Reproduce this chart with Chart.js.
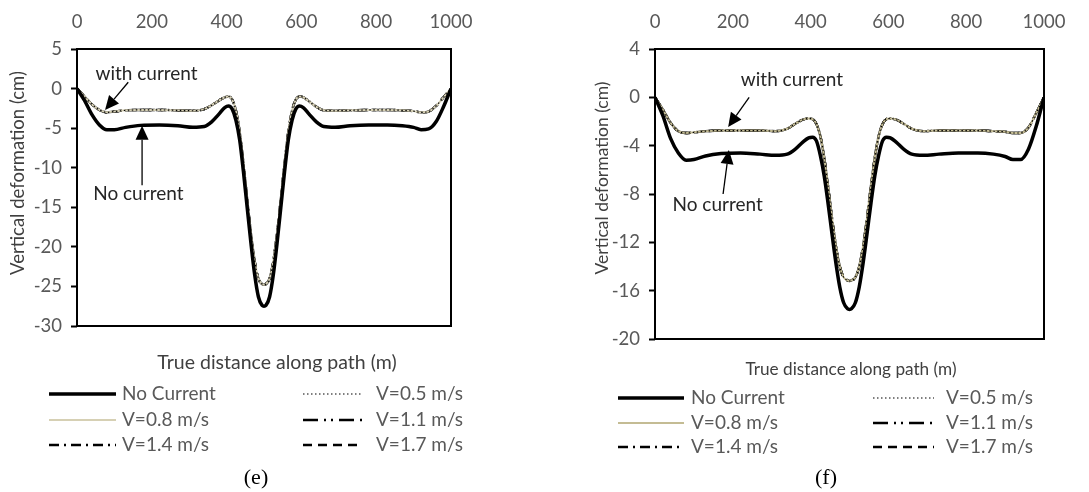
<!DOCTYPE html>
<html>
<head>
<meta charset="utf-8">
<script src="https://cdn.jsdelivr.net/npm/chart.js@4.4.1/dist/chart.umd.min.js"></script>
<style>
html, body { margin: 0; padding: 0; background: #fff; }
#wrap { position: relative; width: 1089px; height: 492px; overflow: hidden; }
.panel { position: absolute; top: 0; }
#pe { left: 0; }
#pf { left: 545px; }
</style>
</head>
<body>
<div id="wrap">
  <div class="panel" id="pe"><canvas id="chartE" width="545" height="492"></canvas></div>
  <div class="panel" id="pf"><canvas id="chartF" width="544" height="492"></canvas></div>
</div>
<script>
// distance along path (m), shared by both panels
const dist = [0, 20, 40, 60, 80, 100, 130, 170, 220, 270, 310, 340, 360, 380, 395,
  405, 415, 425, 435, 445, 455, 465, 475, 485, 495, 500, 505, 515, 525, 535, 545,
  555, 565, 575, 585, 595, 605, 620, 640, 660, 690, 730, 780, 830, 870, 900,
  920, 940, 960, 980, 1000];

// panel (e) vertical deformation (cm)
const noCurrentE = [0, -1.5, -3.3, -4.6, -5.2, -5.2, -4.9, -4.65, -4.6, -4.7,
  -4.9, -4.8, -4.2, -3.2, -2.4, -2.2, -2.6, -4.0, -6.5, -10.5,
  -15.0, -19.5, -23.5, -26.3, -27.4, -27.5, -27.4, -26.3, -23.5, -19.5, -15.0,
  -10.5, -6.5, -4.0, -2.6, -2.2, -2.4, -3.2, -4.2, -4.8, -4.9,
  -4.7, -4.6, -4.6, -4.7, -4.9, -5.2, -5.1, -4.2, -2.3, 0];
// the five current speeds sit on top of each other in the picture
const withCurrentE = [0, -1.0, -2.0, -2.7, -3.0, -2.9, -2.75, -2.7, -2.7, -2.75,
  -2.8, -2.6, -2.1, -1.5, -1.1, -1.0, -1.4, -2.8, -5.5, -9.5,
  -14.0, -18.3, -21.8, -24.0, -24.7, -24.8, -24.7, -24.0, -21.8, -18.3, -14.0,
  -9.5, -5.5, -2.8, -1.4, -1.0, -1.1, -1.6, -2.3, -2.75, -2.8,
  -2.75, -2.7, -2.7, -2.75, -2.85, -3.0, -2.9, -2.2, -1.1, 0];

// panel (f)
const noCurrentF = [0, -1.5, -3.4, -4.6, -5.2, -5.15, -4.85, -4.65, -4.6, -4.7,
  -4.8, -4.7, -4.3, -3.7, -3.35, -3.3, -3.6, -4.8, -6.5, -8.8,
  -11.3, -13.7, -15.7, -17.0, -17.5, -17.55, -17.5, -17.0, -15.7, -13.7, -11.3,
  -8.8, -6.5, -4.8, -3.6, -3.3, -3.35, -3.7, -4.3, -4.7, -4.8,
  -4.7, -4.6, -4.6, -4.7, -4.9, -5.15, -5.15, -4.3, -2.4, 0];
const withCurrentF = [0, -1.0, -2.1, -2.8, -2.95, -2.9, -2.8, -2.75, -2.75, -2.75,
  -2.8, -2.6, -2.2, -1.85, -1.75, -1.8, -2.2, -3.2, -5.0, -7.4,
  -10.0, -12.3, -14.0, -14.9, -15.15, -15.2, -15.15, -14.9, -14.0, -12.3, -10.0,
  -7.4, -5.0, -3.2, -2.2, -1.8, -1.75, -1.85, -2.2, -2.6, -2.8,
  -2.75, -2.75, -2.75, -2.8, -2.85, -2.95, -2.95, -2.5, -1.3, 0];

const seriesNames = ['No Current', 'V=0.5 m/s', 'V=0.8 m/s', 'V=1.1 m/s', 'V=1.4 m/s', 'V=1.7 m/s'];
const xTicksTop = [0, 200, 400, 600, 800, 1000];

const lineStyles = [
  { color: '#000', width: 3.5, dash: [] },
  { color: '#000', width: 1.2, dash: [1.5, 2.5] },
  { color: '#cfc8a8', width: 2, dash: [] },
  { color: '#000', width: 2.4, dash: [15, 6, 2, 5, 2, 6] },
  { color: '#000', width: 2.4, dash: [10, 5, 2, 5] },
  { color: '#000', width: 2.4, dash: [9, 6] }
];

const pts = vals => dist.map((d, i) => ({ x: d, y: vals[i] }));

function datasets(noCur, withCur, tan) {
  return seriesNames.map((name, i) => ({
    label: name,
    data: pts(i === 0 ? noCur : withCur),
    borderColor: i === 2 ? tan : lineStyles[i].color,
    borderWidth: lineStyles[i].width,
    borderDash: lineStyles[i].dash,
    pointRadius: 0,
    cubicInterpolationMode: 'monotone',
    fill: false
  }));
}

function arrow(ctx, x1, y1, x2, y2, head, half) {
  const a = Math.atan2(y2 - y1, x2 - x1);
  const bx = x2 - head * Math.cos(a), by = y2 - head * Math.sin(a);
  ctx.setLineDash([]);
  ctx.lineWidth = 1.3;
  ctx.beginPath(); ctx.moveTo(x1, y1); ctx.lineTo(bx, by); ctx.stroke();
  ctx.beginPath();
  ctx.moveTo(x2, y2);
  ctx.lineTo(bx + half * Math.sin(a), by - half * Math.cos(a));
  ctx.lineTo(bx - half * Math.sin(a), by + half * Math.cos(a));
  ctx.closePath(); ctx.fill();
}

// titles, legend, notes and caption drawn on the chart canvas
function makeDecor(cfg) {
  return {
    id: 'decor',
    afterDraw(chart) {
      const { ctx, chartArea: ar, scales: { x, y } } = chart;
      ctx.save();
      ctx.setLineDash([]);
      ctx.strokeStyle = '#000';
      ctx.lineWidth = 2;
      ctx.strokeRect(ar.left, ar.top, ar.right - ar.left, ar.bottom - ar.top);

      // y title
      ctx.save();
      ctx.fillStyle = '#404040';
      ctx.font = cfg.yTitle.size + 'px Lato';
      ctx.translate(cfg.yTitle.x, cfg.yTitle.y);
      ctx.rotate(-Math.PI / 2);
      ctx.textAlign = 'center'; ctx.textBaseline = 'middle';
      ctx.fillText('Vertical deformation (cm)', 0, 0);
      ctx.restore();

      // x title
      ctx.fillStyle = '#404040';
      ctx.font = cfg.xTitle.size + 'px Lato';
      ctx.textAlign = 'center'; ctx.textBaseline = 'middle';
      ctx.fillText('True distance along path (m)', cfg.xTitle.x, cfg.xTitle.y);

      // legend, two columns, row by row
      ctx.font = cfg.legend.size + 'px Lato';
      ctx.textAlign = 'left';
      chart.data.datasets.forEach((ds, i) => {
        const col = cfg.legend.cols[i % 2], ry = cfg.legend.rows[Math.floor(i / 2)];
        ctx.strokeStyle = ds.borderColor;
        ctx.lineWidth = ds.borderWidth;
        ctx.setLineDash(ds.borderDash);
        ctx.beginPath(); ctx.moveTo(col[0], ry); ctx.lineTo(col[1], ry); ctx.stroke();
        ctx.fillStyle = '#595959';
        ctx.fillText(ds.label, col[2], ry);
      });

      // annotations in data units
      ctx.strokeStyle = '#000';
      ctx.font = cfg.legend.size + 'px Lato';
      ctx.textAlign = 'center';
      cfg.notes.forEach(n => {
        ctx.fillStyle = '#262626';
        ctx.fillText(n.text, x.getPixelForValue(n.tx), y.getPixelForValue(n.ty));
        ctx.fillStyle = '#000';
        arrow(ctx, x.getPixelForValue(n.ax[0]), y.getPixelForValue(n.ax[1]),
          x.getPixelForValue(n.ax[2]), y.getPixelForValue(n.ax[3]), 14, 6.5);
      });

      // caption
      ctx.fillStyle = '#000';
      ctx.font = '22px "Liberation Serif"';
      ctx.fillText(cfg.caption, cfg.capX, cfg.capY);
      ctx.restore();
    }
  };
}

function makeChart(id, data, yMin, yMax, yStep, box, decor) {
  return new Chart(document.getElementById(id), {
    type: 'line',
    data: { datasets: data },
    plugins: [makeDecor(decor)],
    options: {
      responsive: false,
      animation: false,
      layout: { padding: { left: 0, top: 0, right: box.right, bottom: box.bottom } },
      plugins: { legend: { display: false }, tooltip: { enabled: false } },
      scales: {
        x: {
          type: 'linear', position: 'top', min: 0, max: 1000,
          afterBuildTicks: s => { s.ticks = xTicksTop.map(v => ({ value: v })); },
          afterFit: s => { s.height = box.top; },
          grid: { display: false, drawTicks: false },
          border: { display: false },
          ticks: { color: '#595959', font: { family: 'Lato', size: 18.5 }, padding: 16, maxRotation: 0, autoSkip: false, callback: v => String(v) }
        },
        y: {
          min: yMin, max: yMax,
          afterFit: s => { s.width = box.left; },
          grid: { drawOnChartArea: false, drawTicks: true, tickLength: 6, tickColor: '#000', tickWidth: 2 },
          border: { display: false },
          ticks: { stepSize: yStep, color: '#595959', font: { family: 'Lato', size: 18.5 }, padding: 9, callback: v => String(v) }
        }
      }
    }
  });
}

makeChart('chartE', datasets(noCurrentE, withCurrentE, '#d6d0b4'), -30, 5, 5,
  { left: 77, top: 49, right: 94, bottom: 166 },
  {
    yTitle: { x: 18, y: 173, size: 18.5 },
    xTitle: { x: 277, y: 363, size: 19.5 },
    legend: { size: 19, cols: [[49, 116, 122], [303, 362, 376]], rows: [394, 420, 445] },
    notes: [
      { text: 'with current', tx: 186, ty: 1.85, ax: [137, 0.8, 75, -2.7] },
      { text: 'No current', tx: 164, ty: -13.3, ax: [174, -12.2, 174, -4.7] }
    ],
    caption: '(e)', capX: 256, capY: 478
  });

makeChart('chartF', datasets(noCurrentF, withCurrentF, '#c4bc94'), -20, 4, 4,
  { left: 110, top: 49, right: 45, bottom: 153 },
  {
    yTitle: { x: 57, y: 178, size: 17.5 },
    xTitle: { x: 306, y: 369, size: 17.2 },
    legend: { size: 19, cols: [[73, 139, 146], [328, 389, 401]], rows: [398, 423, 447] },
    notes: [
      { text: 'with current', tx: 352, ty: 1.43, ax: [242, 0.0, 188, -2.46] },
      { text: 'No current', tx: 161, ty: -8.9, ax: [175, -8.0, 190, -4.36] }
    ],
    caption: '(f)', capX: 281, capY: 478
  });
</script>
</body>
</html>
